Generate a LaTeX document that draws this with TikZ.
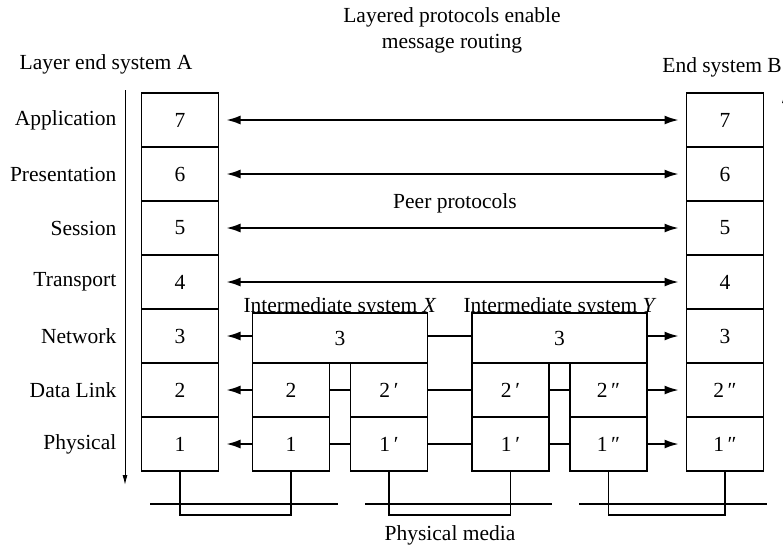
\documentclass[tikz,border=0pt]{standalone}
\usepackage{fontspec}
\setmainfont{Liberation Serif}
\usetikzlibrary{arrows.meta,positioning}
\newcommand{\lsize}{\fontsize{21.5}{25}\selectfont}

\begin{document}
\begin{tikzpicture}[x=1pt, y=-1pt,
    layer/.style={draw, fill=white, line width=1.1pt, minimum width=77pt, minimum height=54pt, inner sep=0pt, outer sep=0pt, font=\lsize},
    netbox/.style={layer, minimum width=175pt, minimum height=50pt},
    lbl/.style={font=\lsize, inner sep=0pt},
    side/.style={lbl, anchor=east},
    peer/.style={{Latex[length=14pt,width=9pt]}-{Latex[length=14pt,width=9pt]}, line width=1.6pt, shorten <=8pt, shorten >=8pt},
    arr/.style={-{Latex[length=14pt,width=9pt]}, line width=1.6pt, shorten >=8pt},
    link/.style={line width=1.6pt},
    media/.style={line width=1.1pt},
    axis/.style={-{Latex[length=10pt,width=5pt]}, line width=1pt}
  ]
    \useasboundingbox (0,0) rectangle (783,547);
    % titles
    \node[lbl, align=center, font=\fontsize{21.5}{26}\selectfont] (title) at (452,30) {Layered protocols enable\\message routing};
    \node[lbl] (sysa) at (106,64) {Layer end system A};
    \node[lbl, anchor=east] (sysb) at (782,67) {End system B};
    \node[lbl] (peerlbl) at (455,203) {Peer protocols};
    \node[lbl, anchor=base] (xlbl) at (340,312) {Intermediate system \textit{X}};
    \node[lbl, anchor=base] (ylbl) at (560,312) {Intermediate system \textit{Y}};
    \node[lbl] (medialbl) at (450,535) {Physical media};
    % end system A
    \node[layer] (a7) at (180,120) {7};
    \node[layer, below=0pt of a7] (a6) {6};
    \node[layer, below=0pt of a6] (a5) {5};
    \node[layer, below=0pt of a5] (a4) {4};
    \node[layer, below=0pt of a4] (a3) {3};
    \node[layer, below=0pt of a3] (a2) {2};
    \node[layer, below=0pt of a2] (a1) {1};
    \node[side, left=25pt of a7] (lapp) {Application};
    \node[side, left=25pt of a6] (lpres) {Presentation};
    \node[side, left=25pt of a5] (lsess) {Session};
    \node[side, left=25pt of a4] (ltrans) {Transport};
    \node[side, left=25pt of a3] (lnet) {Network};
    \node[side, left=25pt of a2] (ldl) {Data Link};
    \node[side, left=25pt of a1] (lphy) {Physical};
    % end system B
    \node[layer] (b7) at (725,120) {7};
    \node[layer, below=0pt of b7] (b6) {6};
    \node[layer, below=0pt of b6] (b5) {5};
    \node[layer, below=0pt of b5] (b4) {4};
    \node[layer, below=0pt of b4] (b3) {3};
    \node[layer, below=0pt of b3] (b2) {2\,″};
    \node[layer, below=0pt of b2] (b1) {1\,″};
    % intermediate system X
    \node[netbox] (x3) at (340,338) {3};
    \node[layer, anchor=north west] (x2a) at (x3.south west) {2};
    \node[layer, anchor=north east] (x2b) at (x3.south east) {2\,′};
    \node[layer, below=0pt of x2a] (x1a) {1};
    \node[layer, below=0pt of x2b] (x1b) {1\,′};
    % intermediate system Y
    \node[netbox] (y3) at (559.5,338) {3};
    \node[layer, anchor=north west] (y2a) at (y3.south west) {2\,′};
    \node[layer, anchor=north east] (y2b) at (y3.south east) {2\,″};
    \node[layer, below=0pt of y2a] (y1a) {1\,′};
    \node[layer, below=0pt of y2b] (y1b) {1\,″};
    % layer axes
    \coordinate (axtop) at (125,90);
    \coordinate (axbot) at (125,485);
    \draw[axis] (axtop) -- (axbot);
    \coordinate (bxbot) at (784.5,485);
    \coordinate (bxtop) at (784.5,93);
    \draw[axis] (bxbot) -- (bxtop);
    % peer protocols
    \draw[peer] (a7) -- (b7);
    \draw[peer] (a6) -- (b6);
    \draw[peer] (a5) -- (b5);
    \draw[peer] (a4) -- (b4);
    \draw[arr] (x3.west |- a3) -- (a3);
    \draw[arr] (x2a) -- (a2);
    \draw[arr] (x1a) -- (a1);
    \draw[arr] (y3.east |- b3) -- (b3);
    \draw[arr] (y2b) -- (b2);
    \draw[arr] (y1b) -- (b1);
    \draw[link] (x3.east |- a3) -- (y3.west |- a3);
    \draw[link] (x2b) -- (y2a);
    \draw[link] (x1b) -- (y1a);
    \draw[link] (x2a) -- (x2b);
    \draw[link] (x1a) -- (x1b);
    \draw[link] (y2a) -- (y2b);
    \draw[link] (y1a) -- (y1b);
    % physical media
    \coordinate (m1l) at (150,504);
    \coordinate (m1r) at (338,504);
    \coordinate (m2l) at (365,504);
    \coordinate (m2r) at (552,504);
    \coordinate (m3l) at (579,504);
    \coordinate (m3r) at (767,504);
    \draw[media] (m1l) -- (m1r);
    \draw[media] (m2l) -- (m2r);
    \draw[media] (m3l) -- (m3r);
    \draw[media] (a1.south) -- ++(0,44) -| (x1a.south);
    \draw[media] (x1b.south) -- ++(0,44) -| (y1a.south);
    \draw[media] (y1b.south) -- ++(0,44) -| (b1.south);
  \end{tikzpicture}
\end{document}
